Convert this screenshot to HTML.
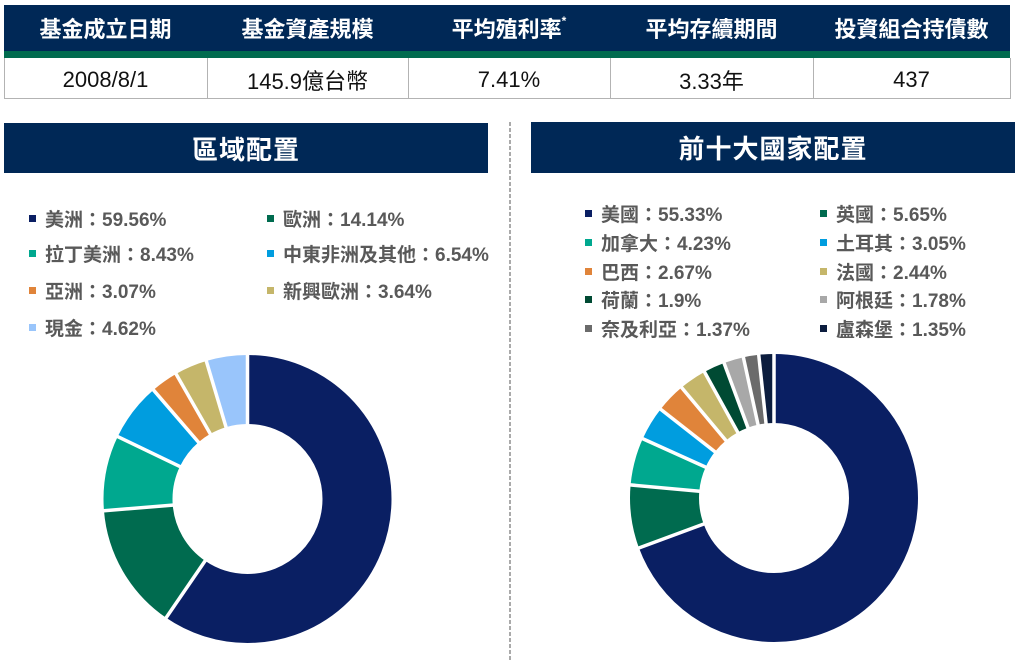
<!DOCTYPE html>
<html>
<head>
<meta charset="utf-8">
<style>
  html, body { margin:0; padding:0; background:#ffffff; }
  body { width:1021px; height:661px; position:relative; overflow:hidden;
         font-family:"Liberation Sans","Noto Sans CJK TC",sans-serif; }
  .abs { position:absolute; }
  .hdr { position:absolute; top:5px; height:46px; display:flex; align-items:center; justify-content:center;
         color:#fff; font-weight:bold; font-size:22px; font-family:"Liberation Sans","Noto Sans CJK TC",sans-serif; }
  .cell { position:absolute; top:59px; height:41px; display:flex; align-items:center; justify-content:center;
          color:#111; font-size:22px; font-family:"Liberation Sans","Noto Sans CJK TC",sans-serif; }
  .title { position:absolute; background:#002856; color:#fff; font-weight:bold; font-size:26px;
           display:flex; align-items:center; justify-content:center; letter-spacing:1px;
           font-family:"Liberation Sans","Noto Sans CJK TC",sans-serif; }
  .lg { position:absolute; height:24px; display:flex; align-items:center; color:#595959;
        font-weight:bold; font-size:19px; white-space:nowrap;
        font-family:"Liberation Sans","Noto Sans CJK TC",sans-serif; }
  .lg i { display:inline-block; width:7px; height:7px; margin-right:9px; }
</style>
</head>
<body>
<!-- Top table -->
<div class="abs" style="left:4px;top:5px;width:1006px;height:46px;background:#002856;"></div>
<div class="abs" style="left:4px;top:51px;width:1006px;height:7px;background:#006b4f;"></div>
<div class="abs" style="left:4px;top:58px;width:1005px;height:40px;border:1px solid #b3b3b3;border-top:none;"></div>
<div class="abs" style="left:207px;top:58px;width:1px;height:41px;background:#b3b3b3;"></div>
<div class="abs" style="left:408px;top:58px;width:1px;height:41px;background:#b3b3b3;"></div>
<div class="abs" style="left:610px;top:58px;width:1px;height:41px;background:#b3b3b3;"></div>
<div class="abs" style="left:813px;top:58px;width:1px;height:41px;background:#b3b3b3;"></div>

<div class="hdr" style="left:4px;width:203px;">基金成立日期</div>
<div class="hdr" style="left:207px;width:201px;">基金資產規模</div>
<div class="hdr" style="left:408px;width:202px;">平均殖利率<span style="font-size:12px;position:relative;top:-7px;">*</span></div>
<div class="hdr" style="left:610px;width:203px;">平均存續期間</div>
<div class="hdr" style="left:813px;width:197px;">投資組合持債數</div>

<div class="cell" style="left:4px;width:203px;">2008/8/1</div>
<div class="cell" style="left:207px;width:201px;">145.9億台幣</div>
<div class="cell" style="left:408px;width:202px;">7.41%</div>
<div class="cell" style="left:610px;width:203px;">3.33年</div>
<div class="cell" style="left:813px;width:197px;">437</div>

<!-- Section titles -->
<div class="title" style="left:4px;top:123px;width:484px;height:50px;">區域配置</div>
<div class="title" style="left:531px;top:122px;width:484px;height:51px;">前十大國家配置</div>

<!-- Left legend -->
<div class="lg" style="left:29px;top:206px;"><i style="background:#0a1f63"></i>美洲：59.56%</div>
<div class="lg" style="left:267px;top:206px;"><i style="background:#006b4f"></i>歐洲：14.14%</div>
<div class="lg" style="left:29px;top:241px;"><i style="background:#00a88f"></i>拉丁美洲：8.43%</div>
<div class="lg" style="left:267px;top:241px;"><i style="background:#009ddf"></i>中東非洲及其他：6.54%</div>
<div class="lg" style="left:29px;top:278px;"><i style="background:#e0843a"></i>亞洲：3.07%</div>
<div class="lg" style="left:267px;top:278px;"><i style="background:#c5b66a"></i>新興歐洲：3.64%</div>
<div class="lg" style="left:29px;top:315px;"><i style="background:#99c5fb"></i>現金：4.62%</div>

<!-- Right legend -->
<div class="lg" style="left:585px;top:201px;"><i style="background:#0a1f63"></i>美國：55.33%</div>
<div class="lg" style="left:820px;top:201px;"><i style="background:#006b4f"></i>英國：5.65%</div>
<div class="lg" style="left:585px;top:230px;"><i style="background:#00a88f"></i>加拿大：4.23%</div>
<div class="lg" style="left:820px;top:230px;"><i style="background:#009ddf"></i>土耳其：3.05%</div>
<div class="lg" style="left:585px;top:259px;"><i style="background:#e0843a"></i>巴西：2.67%</div>
<div class="lg" style="left:820px;top:259px;"><i style="background:#c5b66a"></i>法國：2.44%</div>
<div class="lg" style="left:585px;top:287px;"><i style="background:#004a33"></i>荷蘭：1.9%</div>
<div class="lg" style="left:820px;top:287px;"><i style="background:#a8a8a8"></i>阿根廷：1.78%</div>
<div class="lg" style="left:585px;top:316px;"><i style="background:#6b6b6b"></i>奈及利亞：1.37%</div>
<div class="lg" style="left:820px;top:316px;"><i style="background:#0c1d3e"></i>盧森堡：1.35%</div>

<svg class="abs" style="left:0;top:0;" width="1021" height="661" viewBox="0 0 1021 661">
  <!-- divider -->
  <line x1="510" y1="122" x2="510" y2="661" stroke="#aaaaaa" stroke-width="2" stroke-dasharray="4 2"/>

  <!-- Left donut -->
  <g transform="rotate(-90 247.5 499)" fill="none" stroke-width="69">
    <circle cx="247.5" cy="499" r="109.5" stroke="#0a1f63" stroke-dasharray="409.78 688.01" stroke-dashoffset="0"/>
    <circle cx="247.5" cy="499" r="109.5" stroke="#006b4f" stroke-dasharray="97.28 688.01" stroke-dashoffset="-409.78"/>
    <circle cx="247.5" cy="499" r="109.5" stroke="#00a88f" stroke-dasharray="58.00 688.01" stroke-dashoffset="-507.06"/>
    <circle cx="247.5" cy="499" r="109.5" stroke="#009ddf" stroke-dasharray="45.00 688.01" stroke-dashoffset="-565.06"/>
    <circle cx="247.5" cy="499" r="109.5" stroke="#e0843a" stroke-dasharray="21.12 688.01" stroke-dashoffset="-610.06"/>
    <circle cx="247.5" cy="499" r="109.5" stroke="#c5b66a" stroke-dasharray="25.04 688.01" stroke-dashoffset="-631.18"/>
    <circle cx="247.5" cy="499" r="109.5" stroke="#99c5fb" stroke-dasharray="31.79 688.01" stroke-dashoffset="-656.22"/>
  </g>
  <g stroke="#ffffff" stroke-width="3.5">
    <line x1="247.5" y1="427" x2="247.5" y2="352" transform="rotate(0 247.5 499)"/>
    <line x1="247.5" y1="427" x2="247.5" y2="352" transform="rotate(214.42 247.5 499)"/>
    <line x1="247.5" y1="427" x2="247.5" y2="352" transform="rotate(265.32 247.5 499)"/>
    <line x1="247.5" y1="427" x2="247.5" y2="352" transform="rotate(295.67 247.5 499)"/>
    <line x1="247.5" y1="427" x2="247.5" y2="352" transform="rotate(319.21 247.5 499)"/>
    <line x1="247.5" y1="427" x2="247.5" y2="352" transform="rotate(330.26 247.5 499)"/>
    <line x1="247.5" y1="427" x2="247.5" y2="352" transform="rotate(343.37 247.5 499)"/>
  </g>

  <!-- Right donut -->
  <g transform="rotate(-90 774 498)" fill="none" stroke-width="69">
    <circle cx="774" cy="498" r="109.5" stroke="#0a1f63" stroke-dasharray="477.22 688.01" stroke-dashoffset="0"/>
    <circle cx="774" cy="498" r="109.5" stroke="#006b4f" stroke-dasharray="48.73 688.01" stroke-dashoffset="-477.22"/>
    <circle cx="774" cy="498" r="109.5" stroke="#00a88f" stroke-dasharray="36.49 688.01" stroke-dashoffset="-525.95"/>
    <circle cx="774" cy="498" r="109.5" stroke="#009ddf" stroke-dasharray="26.30 688.01" stroke-dashoffset="-562.43"/>
    <circle cx="774" cy="498" r="109.5" stroke="#e0843a" stroke-dasharray="23.03 688.01" stroke-dashoffset="-588.74"/>
    <circle cx="774" cy="498" r="109.5" stroke="#c5b66a" stroke-dasharray="21.05 688.01" stroke-dashoffset="-611.77"/>
    <circle cx="774" cy="498" r="109.5" stroke="#004a33" stroke-dasharray="16.39 688.01" stroke-dashoffset="-632.81"/>
    <circle cx="774" cy="498" r="109.5" stroke="#a8a8a8" stroke-dasharray="15.35 688.01" stroke-dashoffset="-649.20"/>
    <circle cx="774" cy="498" r="109.5" stroke="#6b6b6b" stroke-dasharray="11.81 688.01" stroke-dashoffset="-664.55"/>
    <circle cx="774" cy="498" r="109.5" stroke="#0c1d3e" stroke-dasharray="11.64 688.01" stroke-dashoffset="-676.36"/>
  </g>
  <g stroke="#ffffff" stroke-width="3.5">
    <line x1="774" y1="426" x2="774" y2="351" transform="rotate(0 774 498)"/>
    <line x1="774" y1="426" x2="774" y2="351" transform="rotate(249.70 774 498)"/>
    <line x1="774" y1="426" x2="774" y2="351" transform="rotate(275.20 774 498)"/>
    <line x1="774" y1="426" x2="774" y2="351" transform="rotate(294.29 774 498)"/>
    <line x1="774" y1="426" x2="774" y2="351" transform="rotate(308.06 774 498)"/>
    <line x1="774" y1="426" x2="774" y2="351" transform="rotate(320.10 774 498)"/>
    <line x1="774" y1="426" x2="774" y2="351" transform="rotate(331.12 774 498)"/>
    <line x1="774" y1="426" x2="774" y2="351" transform="rotate(339.69 774 498)"/>
    <line x1="774" y1="426" x2="774" y2="351" transform="rotate(347.72 774 498)"/>
    <line x1="774" y1="426" x2="774" y2="351" transform="rotate(353.91 774 498)"/>
  </g>
</svg>
</body>
</html>
